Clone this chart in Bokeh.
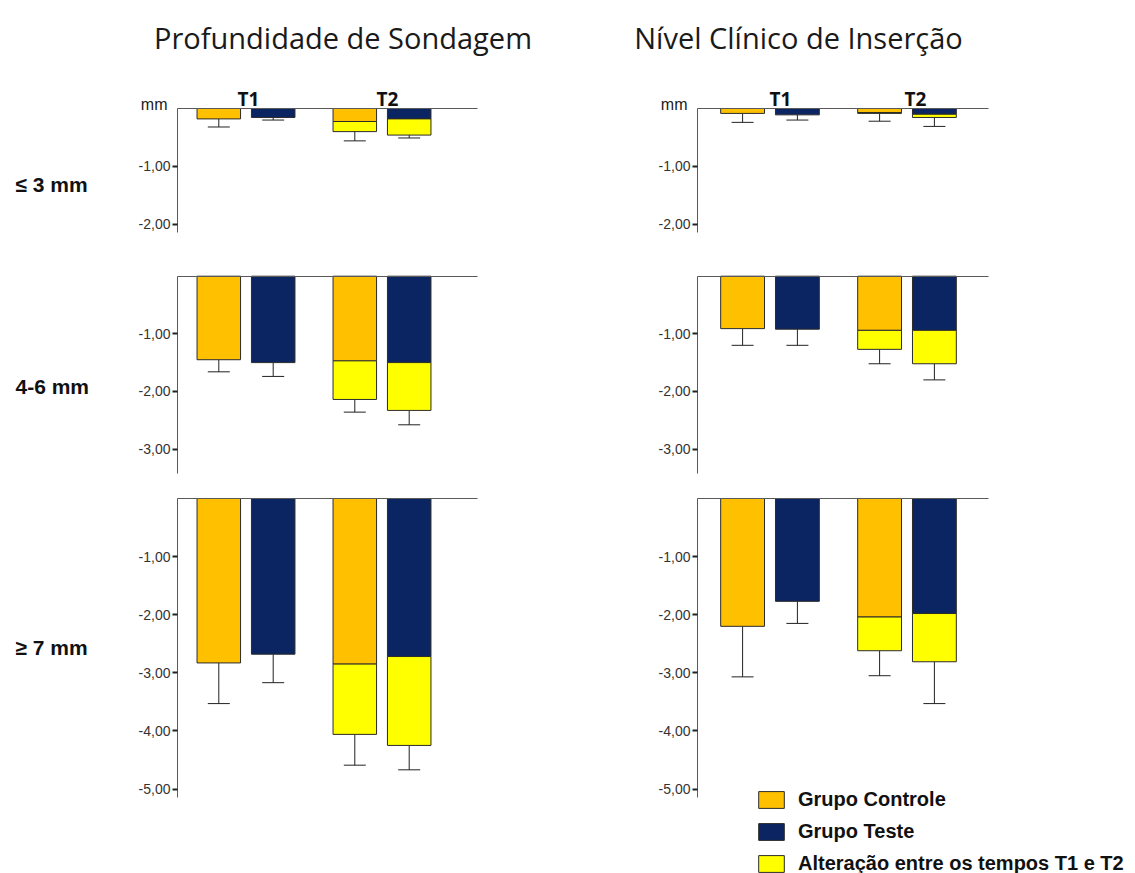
from bokeh.plotting import figure
from bokeh.models import (Range1d, Label, Whisker, TeeHead, ColumnDataSource,
                          FixedTicker, CustomJSTickFormatter, Legend, LegendItem, LinearAxis)
from bokeh.embed import file_html
from bokeh.resources import INLINE

# ---------------------------------------------------------------- data
classes = ["≤ 3 mm", "4-6 mm", "≥ 7 mm"]
times = ["T1", "T2"]
panel_titles = ["Profundidade de Sondagem", "Nível Clínico de Inserção"]
legend_labels = ["Grupo Controle", "Grupo Teste", "Alteração entre os tempos T1 e T2"]

# Profundidade de Sondagem: mean change (mm) and SD, per depth class
ps_ctrl_t1 = [-0.18, -1.45, -2.83]
ps_ctrl_t1_sd = [0.14, 0.21, 0.70]
ps_test_t1 = [-0.155, -1.50, -2.68]
ps_test_t1_sd = [0.045, 0.24, 0.49]
ps_ctrl_t2_base = [-0.225, -1.47, -2.85]
ps_ctrl_t2 = [-0.40, -2.14, -4.06]
ps_ctrl_t2_sd = [0.16, 0.22, 0.53]
ps_test_t2_base = [-0.18, -1.50, -2.72]
ps_test_t2 = [-0.46, -2.33, -4.25]
ps_test_t2_sd = [0.05, 0.25, 0.42]

# Nível Clínico de Inserção: mean change (mm) and SD, per depth class
nic_ctrl_t1 = [-0.085, -0.91, -2.20]
nic_ctrl_t1_sd = [0.155, 0.29, 0.87]
nic_test_t1 = [-0.11, -0.92, -1.77]
nic_test_t1_sd = [0.09, 0.28, 0.38]
nic_ctrl_t2_base = [-0.07, -0.94, -2.04]
nic_ctrl_t2 = [-0.085, -1.27, -2.62]
nic_ctrl_t2_sd = [0.135, 0.25, 0.43]
nic_test_t2_base = [-0.10, -0.94, -1.98]
nic_test_t2 = [-0.155, -1.52, -2.81]
nic_test_t2_sd = [0.155, 0.28, 0.72]

series = [
    dict(ctrl_t1=ps_ctrl_t1, ctrl_t1_sd=ps_ctrl_t1_sd, test_t1=ps_test_t1, test_t1_sd=ps_test_t1_sd,
         ctrl_t2_base=ps_ctrl_t2_base, ctrl_t2=ps_ctrl_t2, ctrl_t2_sd=ps_ctrl_t2_sd,
         test_t2_base=ps_test_t2_base, test_t2=ps_test_t2, test_t2_sd=ps_test_t2_sd),
    dict(ctrl_t1=nic_ctrl_t1, ctrl_t1_sd=nic_ctrl_t1_sd, test_t1=nic_test_t1, test_t1_sd=nic_test_t1_sd,
         ctrl_t2_base=nic_ctrl_t2_base, ctrl_t2=nic_ctrl_t2, ctrl_t2_sd=nic_ctrl_t2_sd,
         test_t2_base=nic_test_t2_base, test_t2=nic_test_t2, test_t2_sd=nic_test_t2_sd),
]

# ---------------------------------------------------------------- style
ORANGE = "#FFC000"
NAVY = "#0B2462"
YELLOW = "#FFFF00"
EDGE = "#2b2b2b"
AXIS_GREY = "#5a5a5a"

# ---------------------------------------------------------------- layout (page pixels)
W, H = 1135, 873
BASELINE = [108, 275.7, 498]          # y of the zero line of each row
Y_SCALE = [57.8, 57.6, 58.1]          # pixels per mm
AXIS_END = [-2.15, -3.43, -5.15]
TICKS = [[-1, -2], [-1, -2, -3], [-1, -2, -3, -4, -5]]

FRAME_L = [177, 697]                  # x of each column's value axis
FRAME_R = [477, 988]                  # right end of the zero line
X_SCALE = [136, 137]                  # pixels between T1 and T2 groups
GROUP1_PX = [245.5, 769.5]            # x of the T1 group centre
OFFSET = 0.2
BAR_W = 0.32

TITLE_CX = [342.5, 798]
TIME_LABEL_PX = [[248, 387], [780, 915]]
CLASS_LABEL_BASE = [184, 386, 647]


def xd(c, px):
    return 1 + (px - GROUP1_PX[c]) / X_SCALE[c]


def yd(r, py):
    return (BASELINE[r] - py) / Y_SCALE[r]


# Whole page as one plot: default ranges run in page pixels (y downwards),
# every panel gets its own pair of extra ranges.
p = figure(width=W, height=H, x_range=Range1d(0, W), y_range=Range1d(H, 0),
           output_backend="svg", toolbar_location=None,
           x_axis_location=None, y_axis_location=None,
           min_border_left=0, min_border_right=0, min_border_top=0, min_border_bottom=0)
p.outline_line_color = None
p.background_fill_color = "white"
p.border_fill_color = "white"
p.xgrid.visible = False
p.ygrid.visible = False

for c in range(2):
    p.extra_x_ranges[f"col{c}"] = Range1d(xd(c, 0), xd(c, W))
for r in range(3):
    p.extra_y_ranges[f"row{r}"] = Range1d(yd(r, H), yd(r, 0))

legend_renderers = None

for c in range(2):
    d = series[c]
    xr = f"col{c}"
    for r in range(3):
        yr = f"row{r}"

        # value axis of the panel
        ax = LinearAxis(x_range_name=xr, y_range_name=yr, fixed_location=xd(c, FRAME_L[c]),
                        bounds=(AXIS_END[r], 0), ticker=FixedTicker(ticks=TICKS[r]),
                        formatter=CustomJSTickFormatter(code="return tick.toFixed(2).replace('.', ',')"))
        ax.axis_line_color = AXIS_GREY
        ax.axis_line_width = 1
        ax.major_tick_line_color = "#222222"
        ax.major_tick_line_width = 2
        ax.major_tick_out = 5
        ax.major_tick_in = 0
        ax.minor_tick_out = 0
        ax.minor_tick_in = 0
        ax.major_label_standoff = 2
        ax.major_label_text_font = "Liberation Sans"
        ax.major_label_text_font_size = "14px"
        ax.major_label_text_color = "#333333"
        p.add_layout(ax, "left")

        # zero line
        zero = LinearAxis(x_range_name=xr, y_range_name=yr, fixed_location=0,
                          bounds=(xd(c, FRAME_L[c]), xd(c, FRAME_R[c])),
                          ticker=FixedTicker(ticks=[]))
        zero.axis_line_color = AXIS_GREY
        zero.axis_line_width = 1
        zero.major_tick_out = 0
        zero.major_tick_in = 0
        zero.minor_tick_out = 0
        zero.minor_tick_in = 0
        zero.major_label_text_font_size = "0px"
        p.add_layout(zero, "below")

        ctrl = ColumnDataSource(dict(x=[1 - OFFSET, 2 - OFFSET], top=[0, 0],
                                     bottom=[d["ctrl_t1"][r], d["ctrl_t2_base"][r]]))
        test = ColumnDataSource(dict(x=[1 + OFFSET, 2 + OFFSET], top=[0, 0],
                                     bottom=[d["test_t1"][r], d["test_t2_base"][r]]))
        change = ColumnDataSource(dict(x=[2 - OFFSET, 2 + OFFSET],
                                       top=[d["ctrl_t2_base"][r], d["test_t2_base"][r]],
                                       bottom=[d["ctrl_t2"][r], d["test_t2"][r]]))
        kw = dict(x="x", top="top", bottom="bottom", width=BAR_W,
                  line_color=EDGE, line_width=1, x_range_name=xr, y_range_name=yr)
        r_ctrl = p.vbar(source=ctrl, fill_color=ORANGE, **kw)
        r_test = p.vbar(source=test, fill_color=NAVY, **kw)
        r_chg = p.vbar(source=change, fill_color=YELLOW, **kw)
        if c == 1 and r == 2:
            legend_renderers = [r_ctrl, r_test, r_chg]

        means = [d["ctrl_t1"][r], d["test_t1"][r], d["ctrl_t2"][r], d["test_t2"][r]]
        sds = [d["ctrl_t1_sd"][r], d["test_t1_sd"][r], d["ctrl_t2_sd"][r], d["test_t2_sd"][r]]
        err = ColumnDataSource(dict(base=[1 - OFFSET, 1 + OFFSET, 2 - OFFSET, 2 + OFFSET],
                                    upper=means,
                                    lower=[m - s for m, s in zip(means, sds)]))
        p.add_layout(Whisker(source=err, base="base", upper="upper", lower="lower",
                             dimension="height", line_color="#222222", line_width=1,
                             upper_head=None, x_range_name=xr, y_range_name=yr,
                             lower_head=TeeHead(size=22, line_color="#222222", line_width=1)))

    # column heading, time labels and unit
    p.add_layout(Label(x=TITLE_CX[c], y=37, text=panel_titles[c],
                       text_align="center", text_baseline="alphabetic",
                       text_font="Open Sans", text_font_size="29px", text_color="#1a1a1a"))
    for k, t in enumerate(times):
        p.add_layout(Label(x=TIME_LABEL_PX[c][k], y=98, text=t,
                           text_align="center", text_baseline="alphabetic",
                           text_font="Open Sans", text_font_style="bold",
                           text_font_size="19px", text_color="#111111"))
    p.add_layout(Label(x=FRAME_L[c] - 10, y=104, text="mm",
                       text_align="right", text_baseline="alphabetic",
                       text_font="Liberation Sans", text_font_size="16px",
                       text_color="#222222"))

# depth-class row labels
for r in range(3):
    p.add_layout(Label(x=15, y=CLASS_LABEL_BASE[r], text=classes[r],
                       text_align="left", text_baseline="alphabetic",
                       text_font="Liberation Sans", text_font_style="bold",
                       text_font_size="21px", text_color="#111111"))

legend = Legend(items=[LegendItem(label=lab, renderers=[rend])
                       for lab, rend in zip(legend_labels, legend_renderers)],
                location=(755, -2),
                glyph_width=32, glyph_height=21, label_height=21,
                label_standoff=11, spacing=9, padding=0, margin=0,
                border_line_color=None, background_fill_alpha=0,
                label_text_font="Liberation Sans", label_text_font_style="bold",
                label_text_font_size="20px", label_text_color="#111111")
p.add_layout(legend)

open("out.html", "w").write(file_html(p, INLINE))
